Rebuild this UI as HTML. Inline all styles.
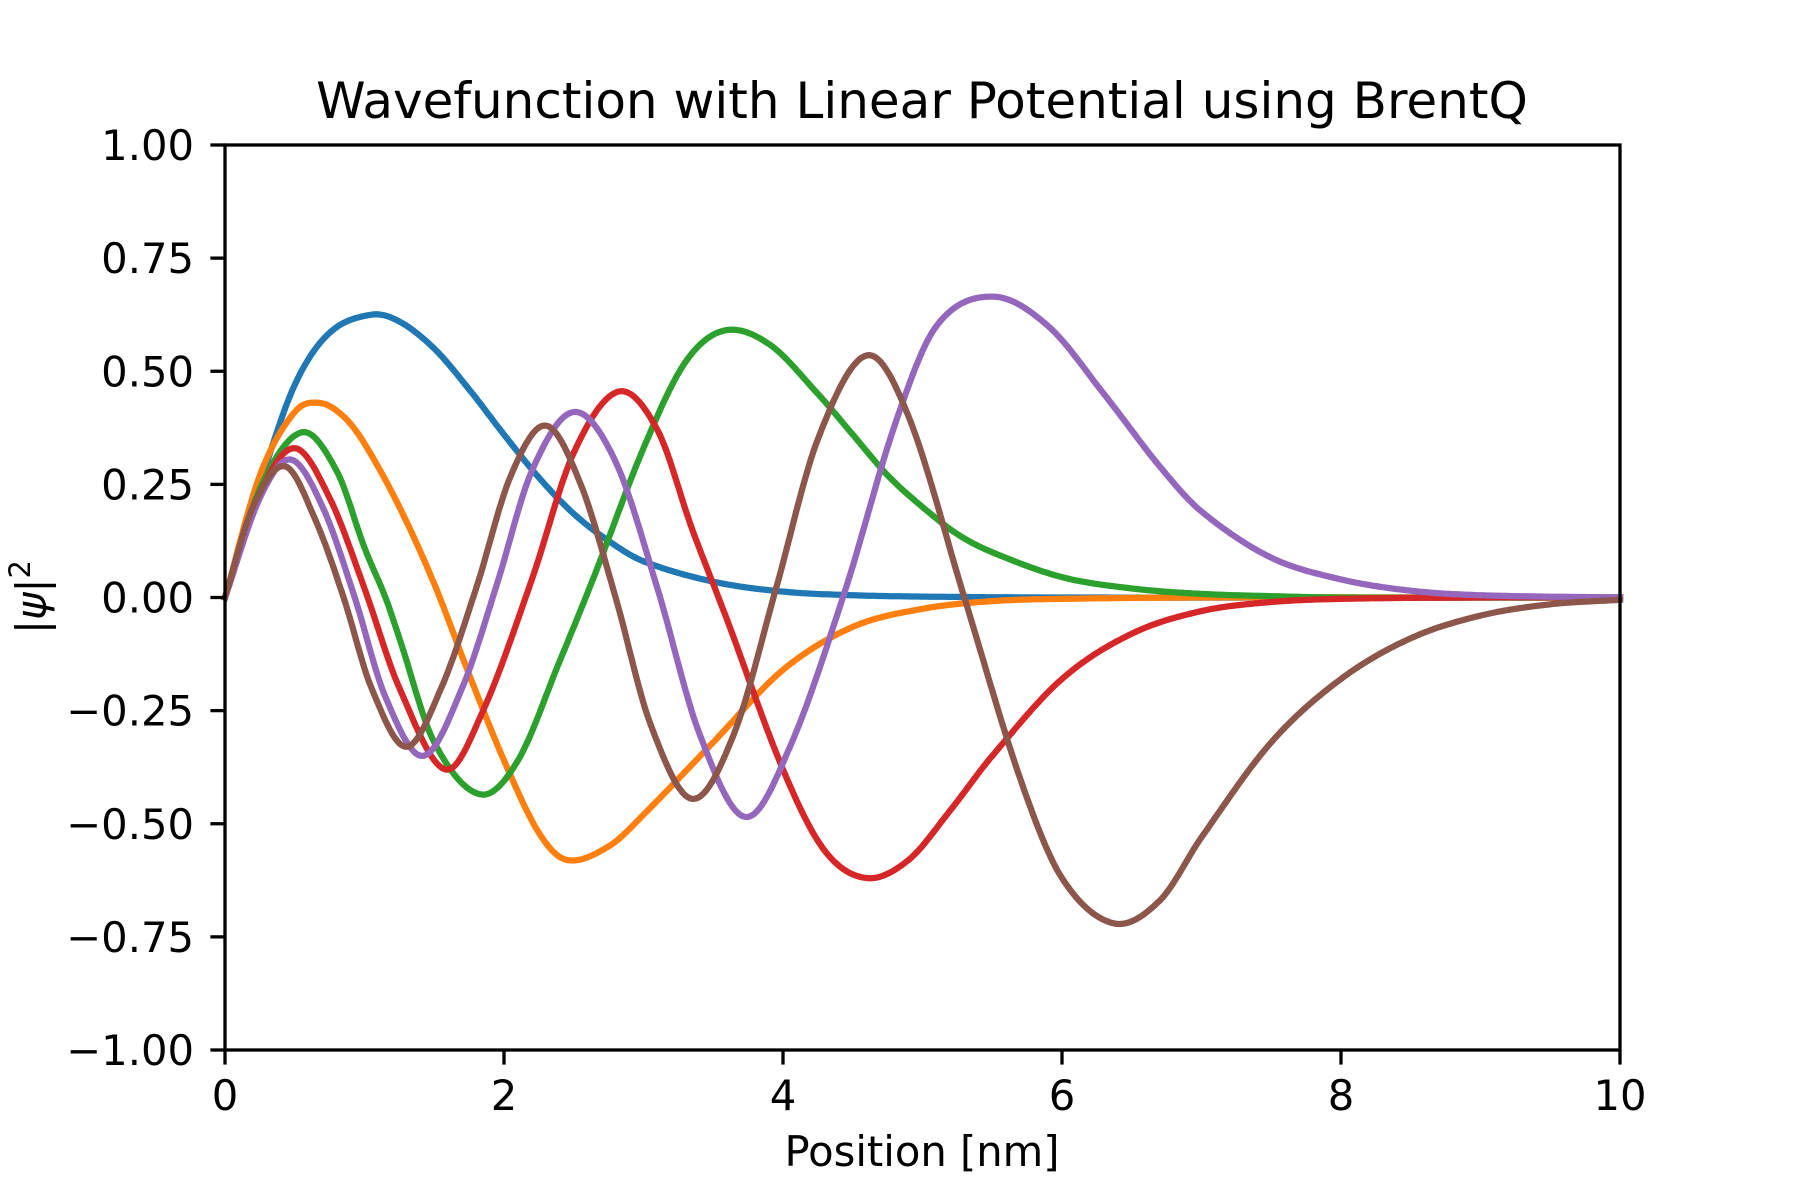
<!DOCTYPE html>
<html><head><meta charset="utf-8"><style>
html,body{margin:0;padding:0;background:#fff}
svg{display:block;font-family:"DejaVu Sans","Liberation Sans",sans-serif}
</style></head><body>
<svg id="chart" width="1800" height="1200" viewBox="0 0 1800 1200">
<rect width="1800" height="1200" fill="#fff"/>
<g id="lines"></g>
<g id="axes"></g>
<text x="922" y="118" font-size="50" text-anchor="middle">Wavefunction with Linear Potential using BrentQ</text>
<text x="922" y="1166" font-size="41.7" text-anchor="middle">Position [nm]</text>
<text transform="translate(46,597) rotate(-90)" font-size="41.7" text-anchor="middle">|<tspan font-style="italic">ψ</tspan>|<tspan font-size="29" dy="-16">2</tspan></text>
</svg>
<script>
const xTicks=[0,2,4,6,8,10];
const yTicks=[-1,-0.75,-0.5,-0.25,0,0.25,0.5,0.75,1];
const yTickLabels=["−1.00","−0.75","−0.50","−0.25","0.00","0.25","0.50","0.75","1.00"];
const colors=["#1f77b4","#ff7f0e","#2ca02c","#d62728","#9467bd","#8c564b"];
const seriesNames=["psi-1","psi-2","psi-3","psi-4","psi-5","psi-6"];
const s1x=[0,0.25,0.5,0.75,1.05,1.25,1.5,1.75,2,2.25,2.5,2.75,3,3.5,4,4.5,5,6,10];
const s1y=[0,0.25,0.47,0.585,0.625,0.61,0.55,0.46,0.36,0.265,0.185,0.125,0.08,0.035,0.013,0.005,0.002,0,0];
const s2x=[0,0.25,0.5,0.68,0.85,1,1.25,1.5,1.75,2,2.25,2.45,2.75,3,3.5,4,4.5,5,5.5,6,7,10];
const s2y=[0,0.27,0.41,0.43,0.40,0.34,0.2,0.03,-0.17,-0.36,-0.52,-0.58,-0.55,-0.48,-0.32,-0.16,-0.065,-0.025,-0.008,-0.003,0,0];
const s3x=[0,0.25,0.55,0.8,1,1.15,1.25,1.5,1.83,2.1,2.4,2.65,3,3.3,3.58,3.9,4.25,4.5,4.75,5,5.25,5.5,6,6.5,7,7.5,8,10];
const s3y=[0,0.24,0.365,0.28,0.11,0,-0.09,-0.32,-0.435,-0.36,-0.14,0.05,0.33,0.52,0.59,0.56,0.45,0.36,0.27,0.2,0.14,0.1,0.045,0.02,0.008,0.003,0,0];
const s4x=[0,0.25,0.5,0.75,1,1.25,1.58,1.85,2.2,2.5,2.82,3.1,3.35,3.6,4,4.3,4.6,4.9,5.2,5.5,6,6.5,7,7.5,8,9,10];
const s4y=[0,0.23,0.33,0.22,0.02,-0.2,-0.38,-0.25,0.04,0.32,0.455,0.37,0.15,-0.05,-0.38,-0.56,-0.62,-0.58,-0.47,-0.35,-0.18,-0.08,-0.03,-0.01,-0.003,0,0];
const s5x=[0,0.25,0.47,0.7,0.93,1.15,1.42,1.7,1.95,2.2,2.5,2.8,3.1,3.4,3.73,4.05,4.45,4.8,5.1,5.5,5.9,6.3,6.7,7,7.5,8,8.5,9,10];
const s5y=[0,0.22,0.305,0.2,0,-0.22,-0.35,-0.2,0.03,0.28,0.41,0.3,0.02,-0.3,-0.485,-0.33,0.02,0.38,0.6,0.665,0.6,0.45,0.29,0.19,0.088,0.04,0.015,0.005,0];
const s6x=[0,0.2,0.43,0.65,0.85,1.05,1.3,1.55,1.8,2.05,2.3,2.55,2.8,3.05,3.35,3.65,3.95,4.25,4.6,4.9,5.3,5.7,6.0,6.37,6.7,7,7.5,8,8.5,9,9.5,10];
const s6y=[0,0.2,0.29,0.17,0,-0.2,-0.33,-0.2,0.02,0.27,0.38,0.25,0,-0.28,-0.445,-0.3,0.02,0.35,0.535,0.4,0,-0.4,-0.62,-0.72,-0.67,-0.53,-0.32,-0.18,-0.09,-0.04,-0.015,-0.005];
const allX=[s1x,s2x,s3x,s4x,s5x,s6x];
const allY=[s1y,s2y,s3y,s4y,s5y,s6y];

const L=225,R=1620,T=145,B=1050;
function sx(v){return L+(v-0)/(10-0)*(R-L);}
function sy(v){return B-(v+1)/2*(B-T);}
const NS="http://www.w3.org/2000/svg";
function mk(tag,attrs,parent){const e=document.createElementNS(NS,tag);for(const k in attrs)e.setAttribute(k,attrs[k]);parent.appendChild(e);return e;}

// non-uniform Catmull-Rom style cubic Hermite interpolation
function interp(xs,ys){
  const n=xs.length,m=new Array(n);
  m[0]=(ys[1]-ys[0])/(xs[1]-xs[0]);
  m[n-1]=(ys[n-1]-ys[n-2])/(xs[n-1]-xs[n-2]);
  for(let i=1;i<n-1;i++)m[i]=(ys[i+1]-ys[i-1])/(xs[i+1]-xs[i-1]);
  return function(x){
    let k=0;while(k<n-2&&x>xs[k+1])k++;
    const h=xs[k+1]-xs[k],t=(x-xs[k])/h,t2=t*t,t3=t2*t;
    return (2*t3-3*t2+1)*ys[k]+(t3-2*t2+t)*h*m[k]+(-2*t3+3*t2)*ys[k+1]+(t3-t2)*h*m[k+1];
  };
}

const lines=document.getElementById('lines');
for(let s=0;s<allX.length;s++){
  const f=interp(allX[s],allY[s]);
  const xs=allX[s];const x0=xs[0],x1=xs[xs.length-1];
  let d="";
  for(let i=0;i<=600;i++){
    const x=x0+(x1-x0)*i/600;
    d+=(i?" L":"M")+sx(x).toFixed(1)+","+sy(f(x)).toFixed(1);
  }
  const p=mk('path',{d:d,fill:'none',stroke:colors[s],'stroke-width':6.25,'stroke-linejoin':'round','stroke-linecap':'square'},lines);
  
  
}

const axes=document.getElementById('axes');
const frame=mk('rect',{x:L,y:T,width:R-L,height:B-T,fill:'none',stroke:'#000','stroke-width':3.3},axes);


xTicks.forEach(v=>{
  const t=mk('line',{x1:sx(v),x2:sx(v),y1:B,y2:B+14.6,stroke:'#000','stroke-width':3.3},axes);
  
  
  const tx=mk('text',{x:sx(v),y:1110,'font-size':41.7,'text-anchor':'middle'},axes);
  tx.textContent=String(v);
  
  
});
yTicks.forEach((v,i)=>{
  const t=mk('line',{x1:L-14.6,x2:L,y1:sy(v),y2:sy(v),stroke:'#000','stroke-width':3.3},axes);
  
  
  const tx=mk('text',{x:194,y:sy(v)+15,'font-size':41.7,'text-anchor':'end'},axes);
  tx.textContent=yTickLabels[i];
  
  
});
</script>
</body></html>
